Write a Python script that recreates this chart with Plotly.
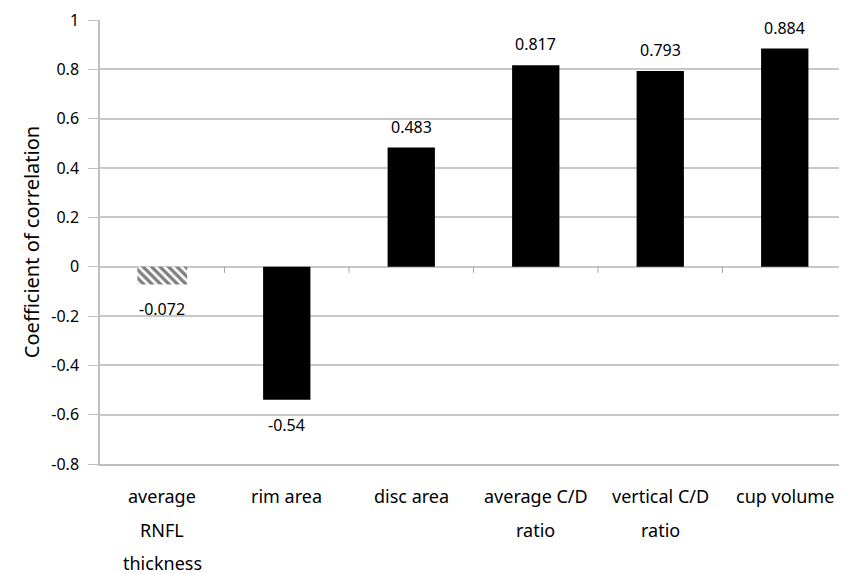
import plotly.graph_objects as go

categories = ["average RNFL thickness", "rim area", "disc area",
              "average C/D ratio", "vertical C/D ratio", "cup volume"]
tick_lines = [["average", "RNFL", "thickness"], ["rim area"], ["disc area"],
              ["average C/D", "ratio"], ["vertical C/D", "ratio"], ["cup volume"]]
values = [-0.072, -0.54, 0.483, 0.817, 0.793, 0.884]
labels = ["-0.072", "-0.54", "0.483", "0.817", "0.793", "0.884"]
y_ticks = [1, 0.8, 0.6, 0.4, 0.2, 0, -0.2, -0.4, -0.6, -0.8]

FONT = "Noto Sans"
x_idx = list(range(len(categories)))

fig = go.Figure()
# hatched first bar
fig.add_trace(go.Bar(
    x=[x_idx[0]], y=[values[0]],
    marker=dict(color="white", line=dict(width=0),
                pattern=dict(shape="\\", fgcolor="black", bgcolor="white", size=6, solidity=0.55)),
    width=0.4,
))
fig.add_trace(go.Bar(
    x=x_idx[1:], y=values[1:],
    marker=dict(color="black", line=dict(width=0)),
    width=0.38,
))

annotations = []
for i, (v, lab) in enumerate(zip(values, labels)):
    annotations.append(dict(x=i, y=v, xref="x", yref="y",
                            yanchor="bottom" if v >= 0 else "top",
                            yshift=8 if v >= 0 else -12,
                            text=lab, showarrow=False,
                            font=dict(family=FONT, size=16, color="black")))

shifts = [-32, -66, -99]
for i, lines in enumerate(tick_lines):
    for j, ln in enumerate(lines):
        annotations.append(dict(x=i, y=0, xref="x", yref="paper", yanchor="middle",
                                yshift=shifts[j], text=ln, showarrow=False,
                                font=dict(family=FONT, size=18, color="black")))

shapes = []
for i in range(len(categories) - 1):
    shapes.append(dict(type="line", xref="x", yref="y", x0=i + 0.5, x1=i + 0.5,
                       y0=0, y1=-0.025, line=dict(color="#a6a6a6", width=1)))

fig.update_layout(
    width=847, height=574,
    margin=dict(l=92, r=8, t=12, b=118, autoexpand=False),
    paper_bgcolor="white", plot_bgcolor="white",
    showlegend=False, barmode="overlay",
    annotations=annotations, shapes=shapes,
    font=dict(family=FONT, color="black"),
    xaxis=dict(range=[-0.5, 5.5], showticklabels=False, showgrid=False,
               zeroline=False, showline=True, linecolor="#bfbfbf", linewidth=1.5,
               automargin=False, fixedrange=True),
    yaxis=dict(range=[-0.8, 1], tickvals=y_ticks, ticktext=[str(t) for t in y_ticks],
               showgrid=True, gridcolor="#c8c8c8", gridwidth=1.5,
               zeroline=True, zerolinecolor="#c8c8c8", zerolinewidth=1.5,
               showline=True, linecolor="#bfbfbf", linewidth=1.5,
               ticks="outside", ticklen=10, tickcolor="#bfbfbf",
               ticklabelstandoff=6, automargin=False,
               tickfont=dict(family=FONT, size=16, color="black"),
               title=dict(text="Coefficient of correlation",
                          font=dict(family=FONT, size=20, color="black"), standoff=6),
               fixedrange=True),
)

fig.write_html("out.html")
